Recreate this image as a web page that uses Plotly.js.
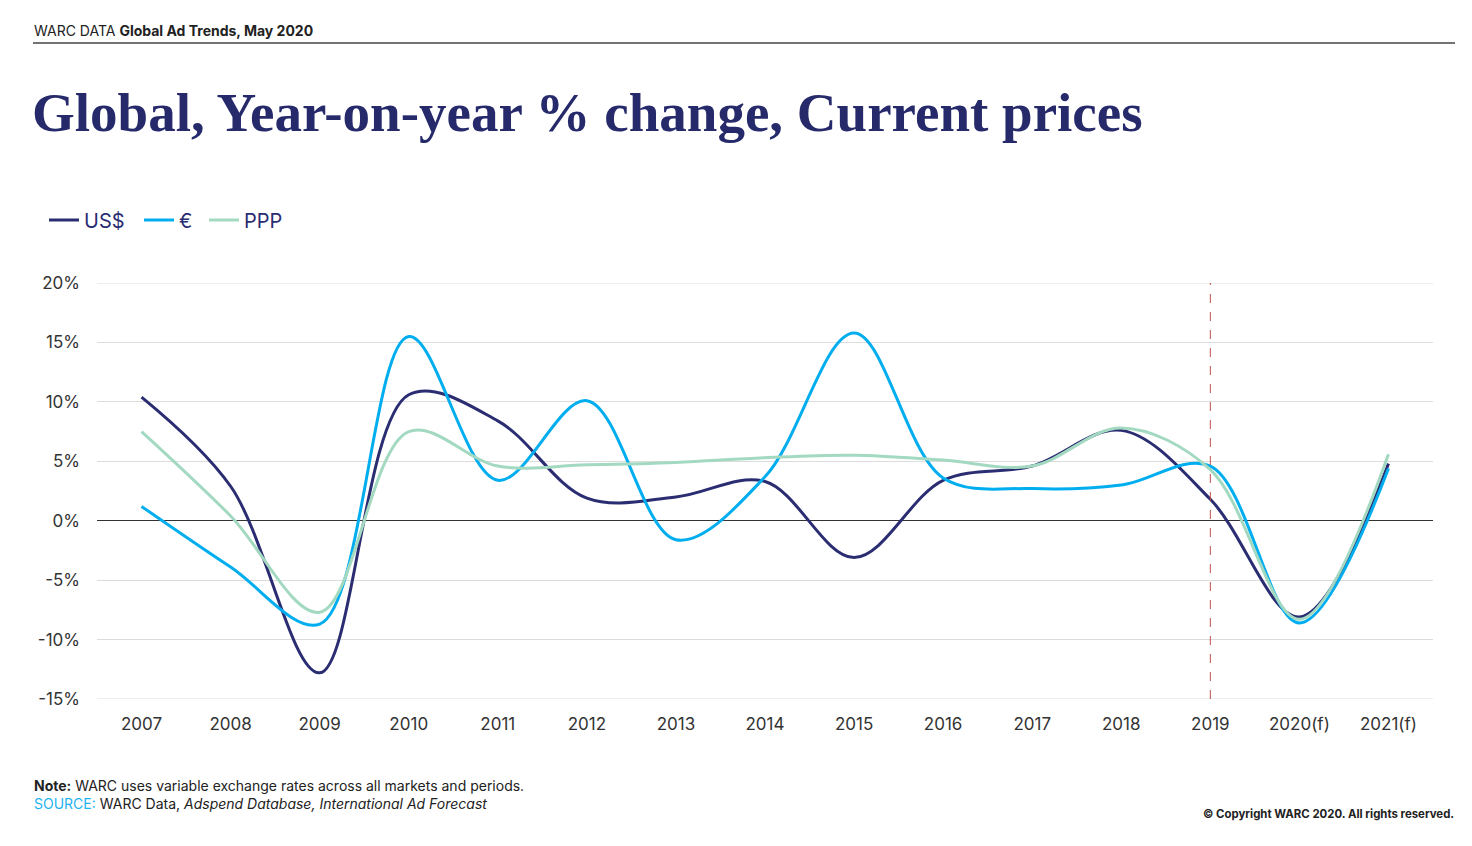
<!DOCTYPE html>
<html>
<head>
<meta charset="utf-8">
<script src="https://cdn.plot.ly/plotly-3.0.1.min.js"></script>
<style>
html,body{margin:0;padding:0;background:#fff;}
#chart{width:1472px;height:846px;}
</style>
</head>
<body>
<div id="chart"></div>
<script>
const years = ['2007','2008','2009','2010','2011','2012','2013','2014','2015','2016','2017','2018','2019','2020(f)','2021(f)'];
const usd = [10.4, 2.9, -12.8, 10.6, 8.4, 1.9, 2.0, 3.3, -3.1, 3.4, 4.6, 7.6, 1.8, -8.1, 4.8];
const eur = [1.2, -3.9, -8.7, 15.5, 3.4, 10.1, -1.6, 3.7, 15.8, 3.6, 2.7, 3.0, 4.6, -8.6, 4.4];
const ppp = [7.5, 0.4, -7.7, 7.5, 4.6, 4.7, 4.9, 5.3, 5.5, 5.1, 4.6, 7.8, 4.3, -8.3, 5.6];
const seriesNames = ['US$', '€', 'PPP'];
const yTicks = [20, 15, 10, 5, 0, -5, -10, -15];
const yTickLabels = ['20%', '15%', '10%', '5%', '0%', '-5%', '-10%', '-15%'];

const colors = ['#2b2d72', '#00aeef', '#a3d9c1'];
const legendWidths = [50, 20, 40];
const W = 1472, H = 846;
const L = 97, R = 1433, T = 283, B = 699;
const px = x => (x - L) / (R - L);
const py = y => (B - y) / (B - T);

const font = 'Inter, "Liberation Sans", Arial, sans-serif';

const traces = [usd, eur, ppp].map((vals, i) => ({
  type: 'scatter', mode: 'lines', x: years, y: vals, name: seriesNames[i],
  legendwidth: legendWidths[i],
  line: {color: colors[i], width: 3, shape: 'spline', smoothing: 1},
  hoverinfo: 'skip'
}));

const edgeGrid = [yTicks[0], yTicks[yTicks.length - 1]].map(v => ({
  type: 'line', xref: 'paper', yref: 'y', x0: 0, x1: 1, y0: v, y1: v,
  line: {color: '#dcdcdc', width: 1}, layer: 'below'
}));

const layout = {
  width: W, height: H,
  paper_bgcolor: '#fff', plot_bgcolor: '#fff',
  margin: {l: L, r: W - R, t: T, b: H - B, pad: 0},
  showlegend: true,
  legend: {orientation: 'h', x: px(44), xanchor: 'left', y: py(220), yanchor: 'middle',
    font: {family: font, size: 20, color: '#2b2d72'}, itemwidth: 30, tracegroupgap: 0,
    bgcolor: 'rgba(0,0,0,0)'},
  xaxis: {type: 'category', range: [-0.5, 14.5], showgrid: false, zeroline: false,
    showline: false, ticks: '', ticklabelstandoff: 13,
    tickfont: {family: font, size: 17, color: '#333'}, fixedrange: true},
  yaxis: {range: [-15, 20], tickvals: yTicks, ticktext: yTickLabels,
    showgrid: true, gridcolor: '#dcdcdc', gridwidth: 1,
    zeroline: true, zerolinecolor: '#333', zerolinewidth: 1.3,
    showline: false, ticks: '', ticklabelstandoff: 16,
    tickfont: {family: font, size: 17, color: '#333'}, fixedrange: true},
  shapes: edgeGrid.concat([
    {type: 'line', xref: 'paper', yref: 'paper', x0: px(33), x1: px(1455), y0: py(43), y1: py(43),
     line: {color: '#444', width: 1.5}},
    {type: 'line', xref: 'x', yref: 'paper', x0: 12, x1: 12, y0: 0, y1: 1,
     line: {color: '#c0504d', width: 1, dash: 'dash'}}
  ]),
  annotations: [
    {xref: 'paper', yref: 'paper', x: px(32), y: py(31), xanchor: 'left', yanchor: 'middle',
     showarrow: false, text: 'WARC DATA <b>Global Ad Trends, May 2020</b>',
     font: {family: font, size: 14, color: '#222'}},
    {xref: 'paper', yref: 'paper', x: px(30), y: py(113), xanchor: 'left', yanchor: 'middle',
     showarrow: false, text: '<b>Global, Year-on-year % change, Current prices</b>',
     font: {family: '"Liberation Serif", "DejaVu Serif", serif', size: 55, color: '#262a6b'}},
    {xref: 'paper', yref: 'paper', x: px(32), y: py(794), xanchor: 'left', yanchor: 'middle',
     showarrow: false, align: 'left',
     text: '<b>Note:</b> WARC uses variable exchange rates across all markets and periods.<br><span style="color:#1fb3f0">SOURCE:</span> WARC Data, <i>Adspend Database, International Ad Forecast</i>',
     font: {family: font, size: 14, color: '#222'}},
    {xref: 'paper', yref: 'paper', x: px(1456), y: py(814), xanchor: 'right', yanchor: 'middle',
     showarrow: false, text: '<b>© Copyright WARC 2020. All rights reserved.</b>',
     font: {family: font, size: 11.4, color: '#222'}}
  ]
};

Plotly.newPlot('chart', traces, layout, {displayModeBar: false, staticPlot: true});
</script>
</body>
</html>
